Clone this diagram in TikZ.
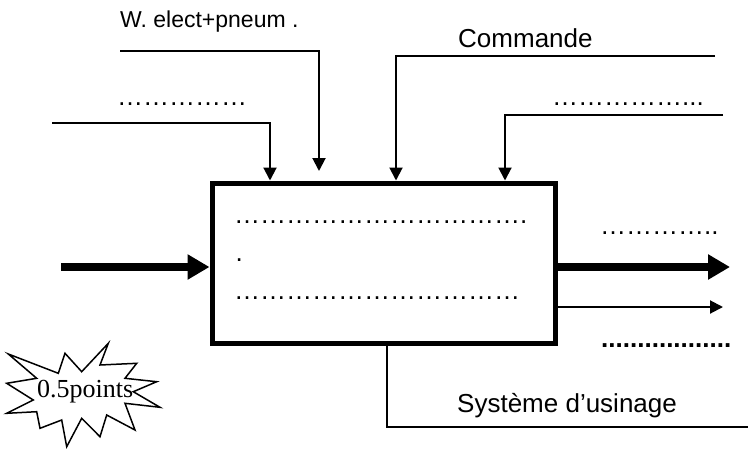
\documentclass[tikz,border=0pt]{standalone}
\usepackage{fontspec}
\setmainfont{Liberation Sans}
\newfontfamily\serifface{Liberation Serif}
\usepackage{tikz}
\usetikzlibrary{arrows.meta,positioning,calc}
\tikzset{
  funcbox/.style={draw=black,fill=white,line width=5pt,
                  minimum width=343pt,minimum height=160pt,inner sep=0pt},
  flowlink/.style={-{Triangle[length=13pt,width=13pt]},line width=2pt},
  mainflow/.style={-{Triangle[length=22pt,width=24pt]},line width=8pt},
  plainlink/.style={line width=2pt},
  lbl/.style={anchor=base west,inner sep=0pt,font=\fontsize{26}{30}\selectfont},
  smalllbl/.style={anchor=base west,inner sep=0pt,font=\fontsize{23}{27}\selectfont},
  blanks/.style={anchor=base west,inner sep=0pt,font=\fontsize{26}{30}\selectfont},
  starlbl/.style={anchor=base west,inner sep=0pt,font=\serifface\fontsize{26}{30}\selectfont}
}
\begin{document}
\begin{tikzpicture}[x=1pt,y=-1pt]
    \path[use as bounding box] (0,0) rectangle (749,450);
    % the function box
    \node[funcbox] (proc) at (383.5,263) {};
    % control inputs from the top
    \coordinate (energy) at (120,51);
    \coordinate (other) at (52,123);
    \coordinate (order) at (715,56);
    \coordinate (setting) at (723,115);
    \draw[flowlink] (energy) -| ([xshift=109.5pt,yshift=9.5pt]proc.north west);
    \draw[flowlink] (other) -| ([xshift=60.5pt]proc.north west);
    \draw[flowlink] (order) -| ([xshift=186.5pt]proc.north west);
    \draw[flowlink] (setting) -| ([xshift=295.5pt]proc.north west);
    \node[smalllbl] (energylbl) at (120,27) {W. elect+pneum .};
    \node[blanks] (otherlbl) at (117,105) {……………};
    \node[lbl] (orderlbl) at (458,47) {Commande};
    \node[blanks] (settinglbl) at (552,105) {……………...};
    % flows through the box
    \coordinate (matIn) at (61,267);
    \coordinate (prodOut) at (730,267);
    \coordinate (lossOut) at (723,307);
    \draw[mainflow] (matIn) -- (matIn -| proc.west);
    \draw[mainflow] (prodOut -| proc.east) -- (prodOut);
    \draw[flowlink] (lossOut -| proc.east) -- (lossOut);
    \node[blanks] (prodlbl) at (600,234.5) {…………..};
    \node[blanks,font=\bfseries\fontsize{26}{30}\selectfont] (losslbl) at (601,347) {..................};
    % text inside the box
    \node[blanks] (funcA) at (234,223.5) {…………………………….};
    \node[blanks] (funcB) at (235.5,261) {.};
    \node[blanks] (funcC) at (234,299.5) {……………………………};
    % support from below
    \coordinate (mechEnd) at (748,427);
    \draw[plainlink] ([xshift=177.5pt]proc.south west) |- (mechEnd);
    \node[lbl] (mechlbl) at (457,412) {Système d’usinage};
    % mark badge
    \draw[line width=1.5pt,fill=white,line join=miter]
      (8.3,354) -- (58.3,373.3) -- (65,353.3) -- (81.7,371.7) -- (108.3,343.3)
      -- (100,365) -- (136.7,363.3) -- (125,378.3) -- (156.7,381.7)
      -- (133.3,391.7) -- (160,407.3) -- (125,403.3) -- (135,430)
      -- (106.7,415) -- (100,436.7) -- (81.7,418.3) -- (66.7,446.7)
      -- (61.7,420) -- (40,428.3) -- (36.7,411.7) -- (6.7,413.3)
      -- (33.3,400) -- (6.7,383.3) -- (36.7,378.3) -- cycle;
    \node[starlbl] (marks) at (37,397) {0.5points};
  \end{tikzpicture}
\end{document}
